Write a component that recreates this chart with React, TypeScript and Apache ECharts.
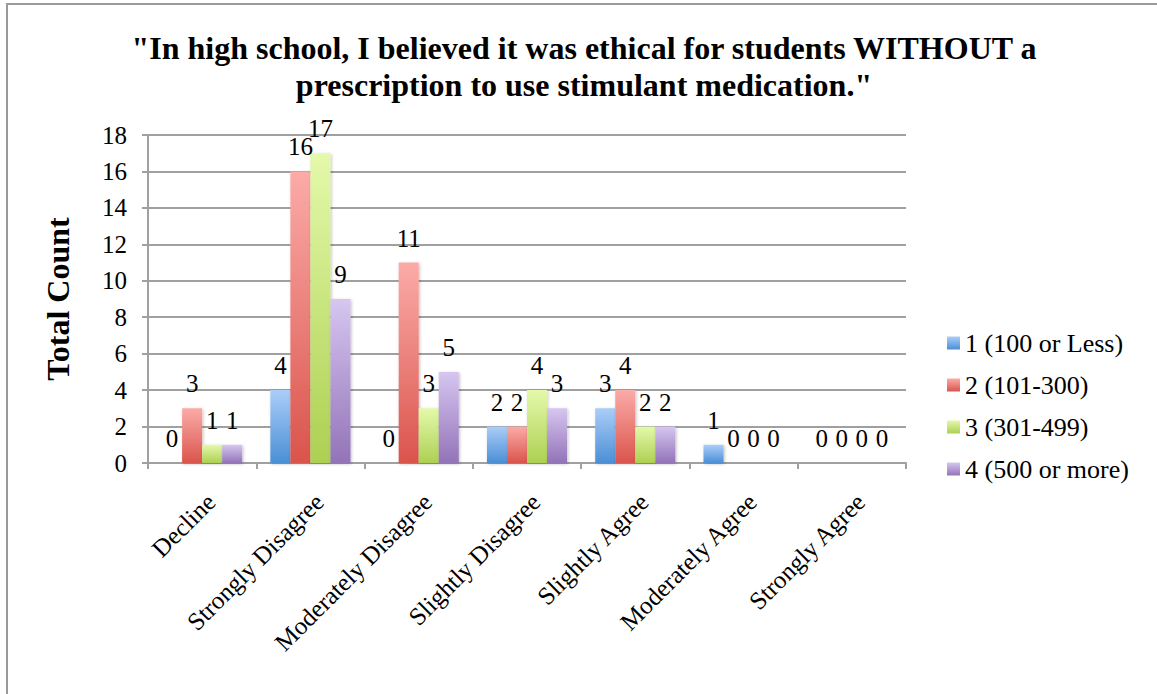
import React, { useEffect, useRef } from "react";
import * as echarts from "echarts";

const categories = [
  "Decline",
  "Strongly Disagree",
  "Moderately Disagree",
  "Slightly Disagree",
  "Slightly Agree",
  "Moderately Agree",
  "Strongly Agree",
];
const seriesNames = ["1 (100 or Less)", "2 (101-300)", "3 (301-499)", "4 (500 or more)"];
const s1 = [0, 4, 0, 2, 3, 1, 0];
const s2 = [3, 16, 11, 2, 4, 0, 0];
const s3 = [1, 17, 3, 4, 2, 0, 0];
const s4 = [1, 9, 5, 3, 2, 0, 0];
const yTicks = { min: 0, max: 18, interval: 2 };

const titleText =
  '"In high school, I believed it was ethical for students WITHOUT a\nprescription to use stimulant medication."';

const FONT = "Liberation Serif, Times New Roman, Times, serif";

const palette = [
  ["#abcdf8", "#4a8fd6"],
  ["#fbaba8", "#da544c"],
  ["#e4f9ab", "#add052"],
  ["#d6c6f0", "#9373b8"],
];

export default function App() {
  const ref = useRef<HTMLDivElement>(null);
  useEffect(() => {
    if (!ref.current) return;
    const chart = echarts.init(ref.current, null, { renderer: "svg" });
    const data = [s1, s2, s3, s4];
    chart.setOption({
      animation: false,
      backgroundColor: "#fff",
      title: {
        text: titleText,
        left: 584,
        textAlign: "center",
        top: 29,
        padding: 0,
        textStyle: {
          fontFamily: FONT,
          fontWeight: "bold",
          fontSize: 32,
          lineHeight: 37,
          color: "#000",
        },
      },
      graphic: [
        {
          type: "rect",
          shape: { x: 7, y: 4, width: 1170, height: 720 },
          style: { fill: "none", stroke: "#9a9a9a", lineWidth: 2 },
          silent: true,
          z: 100,
        },
      ],
      legend: {
        orient: "vertical",
        left: 947,
        top: 330,
        padding: 0,
        itemWidth: 13,
        itemHeight: 13,
        itemGap: 16,
        icon: "rect",
        textStyle: {
          fontFamily: FONT,
          fontSize: 26,
          color: "#000",
        },
        data: seriesNames,
      },
      grid: { left: 148, right: 251, top: 135, bottom: 231, containLabel: false },
      xAxis: {
        type: "category",
        data: categories,
        axisLine: { lineStyle: { color: "#a0a0a0", width: 2 } },
        axisTick: { show: true, length: 6, lineStyle: { color: "#a0a0a0", width: 2 } },
        axisLabel: {
          rotate: 45,
          interval: 0,
          fontFamily: FONT,
          fontSize: 25,
          color: "#000",
          margin: 26,
          verticalAlign: "top",
        },
      },
      yAxis: {
        type: "value",
        min: yTicks.min,
        max: yTicks.max,
        interval: yTicks.interval,
        name: "Total Count",
        nameLocation: "middle",
        nameGap: 74,
        nameTextStyle: { fontFamily: FONT, fontWeight: "bold", fontSize: 32, color: "#000" },
        axisLine: { show: true, lineStyle: { color: "#a0a0a0", width: 2 } },
        axisTick: { show: true, length: 6, lineStyle: { color: "#a0a0a0", width: 2 } },
        splitLine: { lineStyle: { color: "#a0a0a0", width: 2 } },
        axisLabel: { fontFamily: FONT, fontSize: 25, color: "#000", margin: 21 },
      },
      series: data.map((d, i) => ({
        name: seriesNames[i],
        type: "bar",
        data: d,
        barGap: "0%",
        barCategoryGap: "26%",
        itemStyle: {
          color: new echarts.graphic.LinearGradient(0, 0, 0, 1, [
            { offset: 0, color: palette[i][0] },
            { offset: 1, color: palette[i][1] },
          ]),
          shadowColor: "rgba(0,0,0,0.25)",
          shadowBlur: 3,
          shadowOffsetX: 1,
          shadowOffsetY: 1,
        },
        label: {
          show: true,
          position: "top",
          distance: 12,
          fontFamily: FONT,
          fontSize: 25,
          color: "#000",
        },
      })),
    });
    return () => chart.dispose();
  }, []);
  return (
    <div
      ref={ref}
      style={{ position: "fixed", left: 0, top: 0, width: 1157, height: 694 }}
    />
  );
}
